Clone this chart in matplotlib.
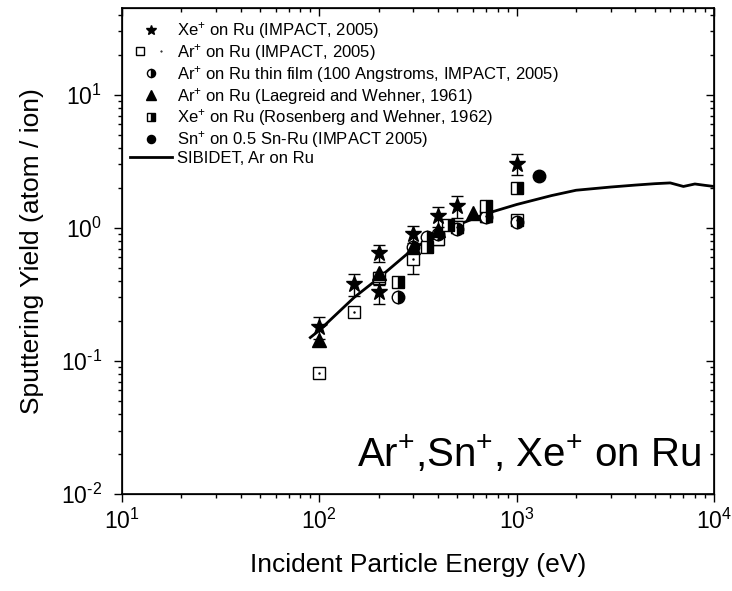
import numpy as np
import matplotlib
matplotlib.use('Agg')
import matplotlib.pyplot as plt
from matplotlib.legend_handler import HandlerTuple
from matplotlib.ticker import FuncFormatter, LogLocator

plt.rcParams['font.family'] = ['Liberation Sans', 'DejaVu Sans']
plt.rcParams['mathtext.fontset'] = 'custom'
plt.rcParams['mathtext.rm'] = 'Liberation Sans'
plt.rcParams['mathtext.default'] = 'regular'
plt.rcParams['axes.unicode_minus'] = False

# Xe+ on Ru (IMPACT, 2005)
xe_imp_E = [100, 150, 200, 200, 300, 400, 500, 1000]
xe_imp_Y = [0.18, 0.38, 0.65, 0.33, 0.90, 1.22, 1.47, 3.05]
xe_imp_err = [0.035, 0.07, 0.10, 0.06, 0.13, 0.21, 0.28, 0.55]

# Ar+ on Ru (IMPACT, 2005)
ar_imp_E = [100, 150, 200, 300, 400, 500, 700, 1000]
ar_imp_Y = [0.081, 0.235, 0.42, 0.58, 0.82, 1.02, 1.22, 1.15]
ar_imp_err = [0.0, 0.0, 0.05, 0.13, 0.08, 0.10, 0.12, 0.06]

# Ar+ on Ru thin film
ar_thin_E = [250, 300, 350, 400, 500, 700, 1000]
ar_thin_Y = [0.30, 0.72, 0.85, 0.90, 0.98, 1.20, 1.10]

# Laegreid and Wehner 1961
laeg_E = [100, 200, 300, 400, 600]
laeg_Y = [0.144, 0.46, 0.72, 0.97, 1.30]

# Rosenberg and Wehner 1962
rosen_E = [250, 350, 450, 700, 1000]
rosen_Y = [0.39, 0.72, 1.05, 1.45, 2.0]

# Sn+ on 0.5 Sn-Ru
sn_E = [1300]
sn_Y = [2.45]

# SIBIDET curve
sib_E = [90, 100, 150, 200, 300, 400, 500, 700, 1000, 1500, 2000, 3000, 4000, 5000, 6000, 7000, 8000, 9000, 10000]
sib_Y = [0.15, 0.17, 0.30, 0.42, 0.70, 0.90, 1.05, 1.28, 1.50, 1.75, 1.92, 2.03, 2.10, 2.15, 2.18, 2.05, 2.14, 2.09, 2.05]


def pow10(v, pos):
    # Origin style label, hyphen instead of a minus sign
    e = int(round(np.log10(v)))
    if e < 0:
        return '$10^{\u2010%d}$' % (-e)
    return '$10^{%d}$' % e


fig = plt.figure(figsize=(7.32, 5.91), dpi=100)
ax = fig.add_axes([122/732, 1 - 494/591, 592/732, 486/591])

line, = ax.plot(sib_E, sib_Y, color='black', lw=2, zorder=2)

ax.errorbar(ar_imp_E, ar_imp_Y, yerr=ar_imp_err, fmt='none', ecolor='black', elinewidth=1, capsize=4, zorder=3)
sq, = ax.plot(ar_imp_E, ar_imp_Y, 's', ms=8, mfc='white', mec='black', mew=1, zorder=4)
dot, = ax.plot(ar_imp_E, ar_imp_Y, '.', ms=1.5, color='black', zorder=5)

hc, = ax.plot(ar_thin_E, ar_thin_Y, 'o', ms=9, fillstyle='right', mfc='black', mfcalt='white', mec='black', mew=1, zorder=4)
hs, = ax.plot(rosen_E, rosen_Y, 's', ms=8, fillstyle='right', mfc='black', mfcalt='white', mec='black', mew=1, zorder=4)
tri, = ax.plot(laeg_E, laeg_Y, '^', ms=10, color='black', zorder=4)

ax.errorbar(xe_imp_E, xe_imp_Y, yerr=xe_imp_err, fmt='none', ecolor='black', elinewidth=1, capsize=4, zorder=5)
st, = ax.plot(xe_imp_E, xe_imp_Y, '*', ms=12, color='black', zorder=6)
sn, = ax.plot(sn_E, sn_Y, 'o', ms=9, color='black', zorder=4)

ax.set_xscale('log')
ax.set_yscale('log')
ax.set_xlim(10, 1e4)
ax.set_ylim(0.01, 45)
ax.xaxis.set_major_locator(LogLocator(base=10))
ax.yaxis.set_major_locator(LogLocator(base=10))
ax.xaxis.set_major_formatter(FuncFormatter(pow10))
ax.yaxis.set_major_formatter(FuncFormatter(pow10))

ax.tick_params(which='both', direction='out', labelsize=16.5, width=1, top=False, right=False)
ax.tick_params(which='major', length=5.5)
ax.tick_params(which='minor', length=3)
ax.tick_params(axis='x', pad=5)
ax.tick_params(axis='y', pad=9)
for s in ax.spines.values():
    s.set_linewidth(1.2)

# mirror ticks pointing inward on top and right
axt = ax.twiny()
axt.set_xscale('log')
axt.set_xlim(ax.get_xlim())
axt.tick_params(which='both', direction='in', labeltop=False, width=1)
axt.tick_params(which='major', length=5.5)
axt.tick_params(which='minor', length=3)
axr = ax.twinx()
axr.set_yscale('log')
axr.set_ylim(ax.get_ylim())
axr.tick_params(which='both', direction='in', labelright=False, width=1)
axr.tick_params(which='major', length=5.5)
axr.tick_params(which='minor', length=3)

ax.set_xlabel('Incident Particle Energy (eV)', fontsize=19, labelpad=14)
ax.set_ylabel('Sputtering Yield (atom / ion)', fontsize=19, labelpad=12)

ax.text(0.397, 0.056, 'Ar$^{+}$,Sn$^{+}$, Xe$^{+}$ on Ru', transform=ax.transAxes,
        ha='left', va='baseline', fontsize=29)

handles = [st, (sq, dot), hc, tri, hs, sn, line]
labels = ['Xe$^{+}$ on Ru (IMPACT, 2005)',
          'Ar$^{+}$ on Ru (IMPACT, 2005)',
          'Ar$^{+}$ on Ru thin film (100 Angstroms, IMPACT, 2005)',
          'Ar$^{+}$ on Ru (Laegreid and Wehner, 1961)',
          'Xe$^{+}$ on Ru (Rosenberg and Wehner, 1962)',
          'Sn$^{+}$ on 0.5 Sn-Ru (IMPACT 2005)',
          'SIBIDET, Ar on Ru']
ax.legend(handles, labels, loc='upper left', bbox_to_anchor=(0.0135, 0.975), frameon=False,
          fontsize=12, markerscale=0.65, labelspacing=0.05, handlelength=2.5,
          handletextpad=0.3, borderpad=0, borderaxespad=0,
          handler_map={tuple: HandlerTuple(ndivide=None, pad=0)})

plt.savefig('out.png', dpi=100)
